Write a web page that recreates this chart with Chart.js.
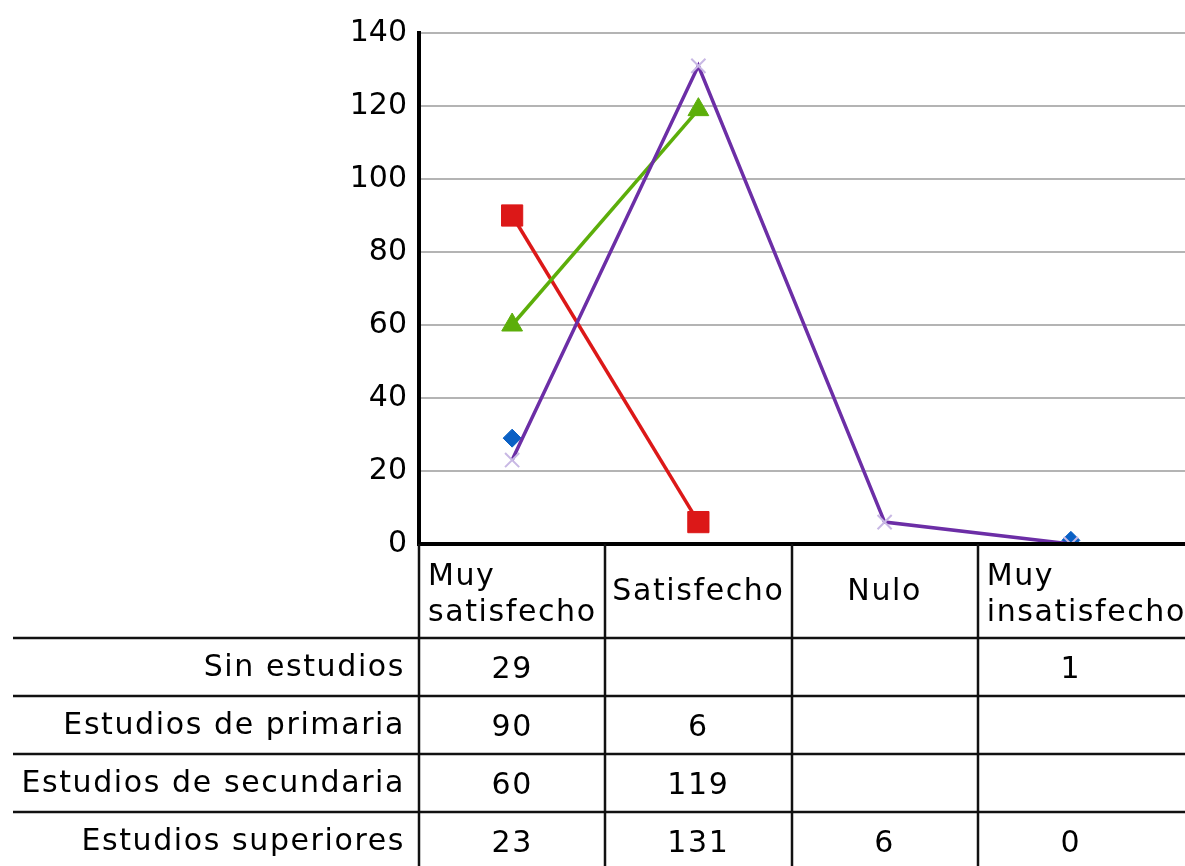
<!DOCTYPE html>
<html>
<head>
<meta charset="utf-8">
<script src="https://cdn.jsdelivr.net/npm/chart.js@4.4.1/dist/chart.umd.min.js"></script>
<style>
  html, body { margin: 0; padding: 0; background: #fff; }
  canvas { display: block; }
</style>
</head>
<body>
<canvas id="c" width="1185" height="866"></canvas>
<script>
// ---- data ----
const categories = ['Muy satisfecho', 'Satisfecho', 'Nulo', 'Muy insatisfecho'];
const seriesNames = ['Sin estudios', 'Estudios de primaria', 'Estudios de secundaria', 'Estudios superiores'];
const sinEstudios = [29, null, null, 1];
const primaria = [90, 6, null, null];
const secundaria = [60, 119, null, null];
const superiores = [23, 131, 6, 0];
const yMin = 0, yMax = 140, yStep = 20;

// ---- styles ----
const FONT = '"DejaVu Sans", Verdana, sans-serif';
const FS = 30;
const seriesData = [sinEstudios, primaria, secundaria, superiores];
const styles = [
  { color: '#0a60c4', pointStyle: 'rectRot', r: 9, pbc: '#0a60c4', pbw: 1 },
  { color: '#dc1818', pointStyle: 'rect', r: 15, pbc: '#dc1818', pbw: 1 },
  { color: '#5cae0a', pointStyle: 'triangle', r: 12, pbc: '#5cae0a', pbw: 1 },
  { color: '#6c2ea6', pointStyle: 'crossRot', r: 10, pbc: '#c8b8e4', pbw: 2 }
];

const datasets = seriesData.map((d, i) => ({
  label: seriesNames[i],
  data: d,
  borderColor: styles[i].color,
  backgroundColor: styles[i].color,
  borderWidth: 3.5,
  pointStyle: styles[i].pointStyle,
  pointRadius: styles[i].r,
  pointBorderColor: styles[i].pbc,
  pointBackgroundColor: styles[i].color,
  pointBorderWidth: styles[i].pbw,
  spanGaps: false,
  tension: 0,
  order: seriesData.length - i
}));

const tablePlugin = {
  id: 'tablePlugin',
  afterDraw(chart) {
    const ctx = chart.ctx;
    const ca = chart.chartArea;
    const xs = chart.scales.x, ys = chart.scales.y;
    const W = chart.width, H = chart.height;
    const n = categories.length;
    const colW = (ca.right - ca.left) / n;
    const rowH = 58;
    const headerBottom = 638;
    ctx.save();
    // extend gridlines to the right edge
    ctx.strokeStyle = '#b4b4b4';
    ctx.lineWidth = 2;
    for (let v = yMin + yStep; v <= yMax; v += yStep) {
      const y = Math.round(ys.getPixelForValue(v));
      ctx.beginPath(); ctx.moveTo(ca.right, y); ctx.lineTo(W, y); ctx.stroke();
    }
    // x axis line extension
    ctx.strokeStyle = '#000';
    ctx.lineWidth = 4;
    ctx.beginPath(); ctx.moveTo(ca.left, ca.bottom); ctx.lineTo(W, ca.bottom); ctx.stroke();
    // table lines
    ctx.strokeStyle = '#111';
    ctx.lineWidth = 2.5;
    for (let r = 0; r < seriesNames.length; r++) {
      const y = headerBottom + r * rowH;
      ctx.beginPath(); ctx.moveTo(13, y); ctx.lineTo(W, y); ctx.stroke();
    }
    for (let c = 0; c < n; c++) {
      const x = Math.round(xs.getPixelForValue(c) - colW / 2);
      ctx.beginPath(); ctx.moveTo(x, ca.bottom); ctx.lineTo(x, H); ctx.stroke();
    }
    // header labels
    ctx.fillStyle = '#000';
    ctx.font = FS + 'px ' + FONT;
    ctx.letterSpacing = '1.6px';
    ctx.textBaseline = 'alphabetic';
    categories.forEach((lab, c) => {
      const cx = xs.getPixelForValue(c);
      const left = cx - colW / 2;
      if (ctx.measureText(lab).width > colW - 8) {
        const parts = lab.split(' ');
        ctx.textAlign = 'left';
        ctx.fillText(parts[0], left + 9, 585);
        ctx.fillText(parts.slice(1).join(' '), left + 9, 621);
      } else {
        ctx.textAlign = 'center';
        ctx.fillText(lab, cx, 600);
      }
    });
    // rows
    seriesNames.forEach((name, r) => {
      const base = headerBottom + r * rowH + 38;
      ctx.textAlign = 'right';
      ctx.fillText(name, 405, base);
      ctx.textAlign = 'center';
      seriesData[r].forEach((v, c) => {
        if (v === null || v === undefined) return;
        ctx.fillText(String(v), xs.getPixelForValue(c), base + 2);
      });
    });
    ctx.restore();
  }
};

new Chart(document.getElementById('c'), {
  type: 'line',
  data: { labels: categories, datasets },
  options: {
    responsive: false,
    animation: false,
    events: [],
    layout: { padding: { top: 33, right: 21, left: 0, bottom: 0 } },
    plugins: { legend: { display: false }, tooltip: { enabled: false } },
    scales: {
      x: {
        offset: true,
        grid: { display: false },
        border: { display: true, color: '#000', width: 4 },
        ticks: { display: false },
        afterFit(s) { s.height = 866 - 544; }
      },
      y: {
        min: yMin, max: yMax,
        grid: { color: '#b4b4b4', lineWidth: 2, drawTicks: false },
        border: { display: true, color: '#000', width: 4 },
        ticks: {
          stepSize: yStep,
          color: '#000',
          padding: 12,
          font: { family: FONT, size: FS }
        },
        afterFit(s) { s.width = 419; }
      }
    }
  },
  plugins: [tablePlugin]
});
</script>
</body>
</html>
